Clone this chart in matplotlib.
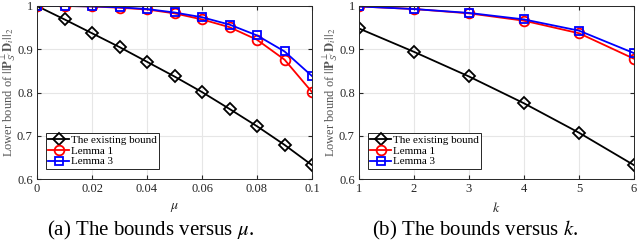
import matplotlib
matplotlib.use("Agg")
import matplotlib.pyplot as plt
import numpy as np

plt.rcParams['font.family'] = ['Liberation Serif', 'DejaVu Serif']
plt.rcParams['mathtext.fontset'] = 'stix'

# (a) bounds versus mu
mu = [0, 0.01, 0.02, 0.03, 0.04, 0.05, 0.06, 0.07, 0.08, 0.09, 0.1]
existing_mu = [1.0, 0.969, 0.937, 0.905, 0.871, 0.837, 0.801, 0.762, 0.722, 0.679, 0.632]
lemma1_mu = [1.0, 1.0, 0.999, 0.996, 0.992, 0.983, 0.969, 0.951, 0.922, 0.876, 0.801]
lemma3_mu = [1.0, 1.0, 0.999, 0.997, 0.993, 0.985, 0.974, 0.957, 0.932, 0.895, 0.838]

# (b) bounds versus k
k = [1, 2, 3, 4, 5, 6]
existing_k = [0.948, 0.894, 0.837, 0.775, 0.707, 0.632]
lemma1_k = [0.999, 0.993, 0.983, 0.966, 0.937, 0.878]
lemma3_k = [0.999, 0.993, 0.984, 0.969, 0.943, 0.891]

labels = ['The existing bound', 'Lemma 1', 'Lemma 3']
ylab = r'Lower bound of $||\mathbf{P}_{\mathcal{S}^{\prime}}^{\perp}\mathbf{D}_i||_2$'

fig = plt.figure(figsize=(6.4, 2.48), dpi=100)
ax1 = fig.add_axes([37/640, 1-179/248, 275/640, 173/248])
ax2 = fig.add_axes([359/640, 1-179/248, 275/640, 173/248])

def draw(ax, x, ys, xlabel, xticks, xticklabels, caption, cap_x):
    ax.plot(x, ys[0], color='black', marker='D', mfc='none', ms=6, mew=1.3, lw=1.3, label=labels[0])
    ax.plot(x, ys[1], color='red', marker='o', mfc='none', ms=7, mew=1.3, lw=1.3, label=labels[1])
    ax.plot(x, ys[2], color='blue', marker='s', mfc='none', ms=6, mew=1.3, lw=1.3, label=labels[2])
    ax.set_xlim(x[0], x[-1])
    ax.set_ylim(0.6, 1.0)
    ax.set_xticks(xticks)
    ax.set_xticklabels(xticklabels)
    ax.set_yticks([0.6, 0.7, 0.8, 0.9, 1.0])
    ax.set_yticklabels(['0.6', '0.7', '0.8', '0.9', '1'])
    ax.grid(True, color='#e6e6e6', lw=0.8)
    ax.set_axisbelow(True)
    ax.tick_params(direction='in', labelsize=9, length=3, colors='#262626', top=True, right=True, pad=3)
    for s in ax.spines.values():
        s.set_color('#262626')
        s.set_linewidth(0.7)
    ax.set_xlabel(xlabel, fontsize=10, labelpad=4, color='#262626')
    ax.set_ylabel(ylab, fontsize=9, color='#555555')
    ax.yaxis.set_label_coords(-0.068, 0.5)
    leg = ax.legend(loc='lower left', bbox_to_anchor=(0.032, 0.06), fontsize=8, fancybox=False,
                    edgecolor='#262626', framealpha=1, handlelength=1.9, borderpad=0.2,
                    labelspacing=0.1, handletextpad=0.2, borderaxespad=0)
    leg.get_frame().set_linewidth(0.7)
    fig.text(cap_x / 640, 1 - 219 / 248, caption, ha='center', va='top', fontsize=15)

draw(ax1, mu, [existing_mu, lemma1_mu, lemma3_mu], r'$\mu$',
     [0, 0.02, 0.04, 0.06, 0.08, 0.1], ['0', '0.02', '0.04', '0.06', '0.08', '0.1'],
     r'(a) The bounds versus $\mu$.', 151)
draw(ax2, k, [existing_k, lemma1_k, lemma3_k], r'$k$',
     k, [str(v) for v in k], r'(b) The bounds versus $k$.', 475)

fig.savefig('out.png', dpi=100)
